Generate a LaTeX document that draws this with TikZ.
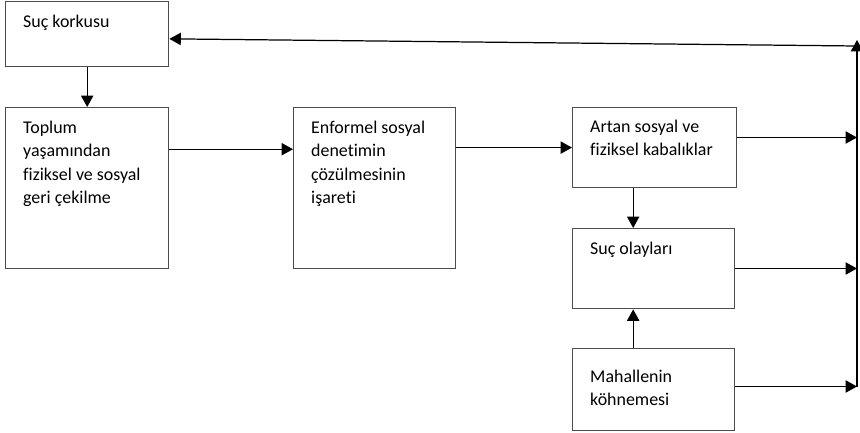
\documentclass[tikz,border=0pt]{standalone}
\usepackage{fontspec}
\setmainfont{Carlito}[Ligatures=NoCommon]
\usetikzlibrary{arrows.meta,calc}

\tikzset{
  kutu/.style={draw=black!70, line width=0.8pt, anchor=north west, inner sep=0pt},
  ok/.style={-{Triangle[length=6.5pt,width=7pt]}, line width=0.7pt}
}
\newcommand{\kutuyazi}[4][0.19cm]{\parbox[t][#3][t]{#2}{\vspace*{#1}\raggedright\leftskip=0.35cm\strut #4}}

\begin{document}
\begin{tikzpicture}[x=0.02cm, y=-0.02cm, font=\fontsize{10.2pt}{13.3pt}\selectfont]
  \useasboundingbox (0,0) rectangle (860,433);

  % kutular
  \node[kutu] (korku) at (5,1) {\kutuyazi{3.26cm}{1.30cm}{Suç korkusu}};
  \node[kutu] (toplum) at (5,107) {\kutuyazi{3.26cm}{3.22cm}{Toplum\\ yaşamından\\ fiziksel ve sosyal\\ geri çekilme}};
  \node[kutu] (enformel) at (293,107) {\kutuyazi{3.24cm}{3.22cm}{Enformel sosyal\\ denetimin\\ çözülmesinin\\ işareti}};
  \node[kutu] (artan) at (572,107) {\kutuyazi[0.17cm]{3.28cm}{1.60cm}{Artan sosyal ve\\ fiziksel kabalıklar}};
  \node[kutu] (olay) at (572,228) {\kutuyazi{3.24cm}{1.60cm}{Suç olayları}};
  \node[kutu] (mahalle) at (572,348) {\kutuyazi[0.35cm]{3.24cm}{1.64cm}{Mahallenin\\ köhnemesi}};

  % sag dikey hat
  \coordinate (ust) at (857,40);
  \coordinate (donus) at (857,46);
  \coordinate (s1) at (857,137.5);
  \coordinate (s2) at (857,268.5);
  \coordinate (s3) at (857,386.5);

  % oklar
  \draw[ok] (korku.south) -- (toplum.north);
  \draw[ok] ($(toplum.north east)!0.26!(toplum.south east)$) coordinate (t1) -- (enformel.west |- t1);
  \draw[ok] ($(enformel.north east)!0.25!(enformel.south east)$) coordinate (e1) -- (artan.west |- e1);
  \draw[ok] ($(artan.south west)!0.37!(artan.south east)$) coordinate (a1) -- (olay.north -| a1);
  \draw[ok] (mahalle.north -| a1) -- (olay.south -| a1);
  \draw[ok] (artan.east |- s1) -- (s1);
  \draw[ok] (olay.east |- s2) -- (s2);
  \draw[ok] (mahalle.east |- s3) -- (s3);
  \draw[ok] (s3) -- (ust);
  \draw[ok] (donus) -- ($(korku.north east)!0.57!(korku.south east)$);
\end{tikzpicture}
\end{document}
